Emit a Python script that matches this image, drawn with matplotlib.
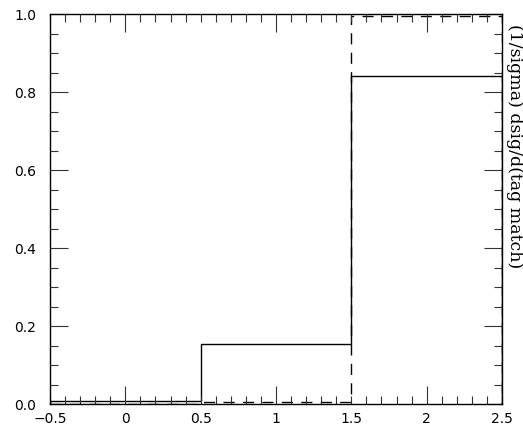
import matplotlib.pyplot as plt
from matplotlib.ticker import MultipleLocator, FuncFormatter

# bordes de los bins y alturas de los dos histogramas
edges = [-0.5, 0.5, 1.5, 2.5]
solid_vals = [0.007, 0.155, 0.84]
dashed_vals = [0.0, 0.006, 0.995]

fig = plt.figure(figsize=(5.23, 4.27), dpi=100)
ax = fig.add_axes([50 / 523, 22 / 427, 452 / 523, 390 / 427])

ax.stairs(solid_vals, edges, color='black', lw=1.0)
ax.stairs(dashed_vals, edges, color='black', lw=1.0, linestyle=(0, (8, 6)))

ax.set_xlim(-0.5, 2.5)
ax.set_ylim(0, 1.0)

# x: ticks largos en enteros, cortos cada 0.1, etiquetas cada 0.5
ax.xaxis.set_major_locator(MultipleLocator(1.0))
ax.xaxis.set_minor_locator(MultipleLocator(0.1))


def fmt_num(v):
    return f"{v:g}".replace('-', '\u2212')


def fmt_minor(v, pos):
    r = round(v * 10)
    if r % 10 == 5 or r % 10 == -5:
        return fmt_num(round(v, 1))
    return ''


ax.xaxis.set_major_formatter(FuncFormatter(lambda v, p: fmt_num(round(v, 1))))
ax.xaxis.set_minor_formatter(FuncFormatter(fmt_minor))

ax.yaxis.set_major_locator(MultipleLocator(0.2))
ax.yaxis.set_minor_locator(MultipleLocator(0.05))
ax.yaxis.set_major_formatter(FuncFormatter(lambda v, p: f"{v:.1f}"))
ax.yaxis.set_minor_formatter(FuncFormatter(lambda v, p: ''))

ax.tick_params(which='both', direction='in', top=True, right=True,
               labelright=False, labeltop=False, labelsize=10, width=0.8,
               color='#333333')
ax.tick_params(axis='x', which='both', pad=5)
ax.tick_params(axis='y', which='both', pad=10)
ax.tick_params(which='major', length=13)
ax.tick_params(which='minor', length=6)

# etiqueta del eje a la derecha, girada
fig.text(514 / 523, 1 - 146 / 427, '(1/sigma) dsig/d(tag match)',
         rotation=-90, ha='center', va='center',
         family='DejaVu Serif', fontsize=12.5)

for s in ax.spines.values():
    s.set_linewidth(1.0)

fig.savefig('out.png', dpi=100)
